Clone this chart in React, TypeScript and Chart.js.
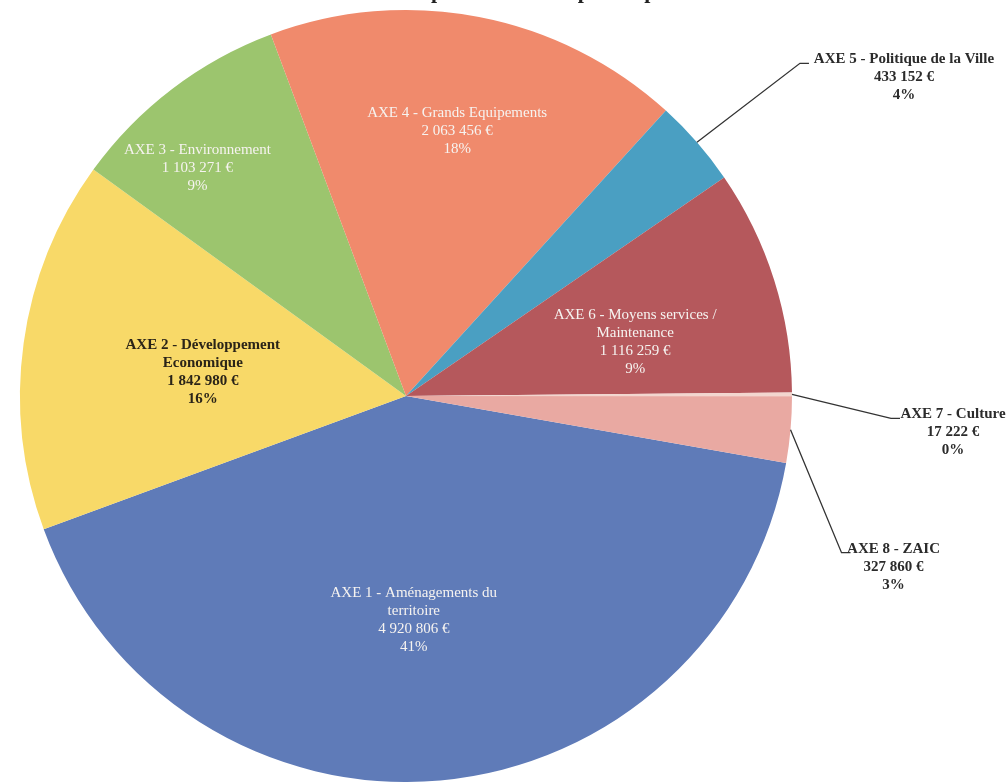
import React, { useEffect, useRef } from "react";
import { Chart, registerables } from "chart.js";

Chart.register(...registerables);

const titleText = "Répartition des dépenses par axe";

const categories = [
  "AXE 1 - Aménagements du territoire",
  "AXE 2 - Développement Economique",
  "AXE 3 - Environnement",
  "AXE 4 - Grands Equipements",
  "AXE 5 - Politique de la Ville",
  "AXE 6 - Moyens services / Maintenance",
  "AXE 7 - Culture",
  "AXE 8 - ZAIC",
];

const amounts = [4920806, 1842980, 1103271, 2063456, 433152, 1116259, 17222, 327860];

const nameLines = [
  ["AXE 1 - Aménagements du", "territoire"],
  ["AXE 2 - Développement", "Economique"],
  ["AXE 3 - Environnement"],
  ["AXE 4 - Grands Equipements"],
  ["AXE 5 - Politique de la Ville"],
  ["AXE 6 - Moyens services /", "Maintenance"],
  ["AXE 7 - Culture"],
  ["AXE 8 - ZAIC"],
];

const amountLabels = [
  "4 920 806 €",
  "1 842 980 €",
  "1 103 271 €",
  "2 063 456 €",
  "433 152 €",
  "1 116 259 €",
  "17 222 €",
  "327 860 €",
];

const percentLabels = ["41%", "16%", "9%", "18%", "4%", "9%", "0%", "3%"];

const colors = ["#5f7bb8", "#f8d968", "#9cc56e", "#f08a6c", "#4a9fc2", "#b5585c", "#f3d6cf", "#e9a9a2"];

// style: label placement (inside: radius fraction + angle offset; outside: leader elbow offsets)
const insideStyle: (null | { r: number; da: number; dark: boolean })[] = [
  { r: 0.58, da: 3.1, dark: false },
  { r: 0.53, da: -1.2, dark: true },
  { r: 0.8, da: -5.2, dark: false },
  { r: 0.7, da: 0, dark: false },
  null,
  { r: 0.61, da: 4.2, dark: false },
  null,
  null,
];

const outsideStyle: (null | { ex: number; ey: number; tx: number })[] = [
  null,
  null,
  null,
  null,
  { ex: 103, ey: -79, tx: 104 },
  null,
  { ex: 99, ey: 24, tx: 62 },
  { ex: 51, ey: 123, tx: 52 },
];

const labelPlugin = {
  id: "pieLabels",
  afterDraw(chart: any) {
    const ctx = chart.ctx;
    const meta = chart.getDatasetMeta(0);
    ctx.save();
    // title (mostly cut off at the top)
    ctx.font = "bold 22px 'Liberation Serif', serif";
    ctx.fillStyle = "#222";
    ctx.textAlign = "center";
    ctx.textBaseline = "alphabetic";
    ctx.fillText(titleText, 560, -2);

    const lh = 18;
    meta.data.forEach((arc: any, i: number) => {
      const p = arc.getProps(["x", "y", "startAngle", "endAngle", "outerRadius"], true);
      const mid = (p.startAngle + p.endAngle) / 2;
      const lines = [...nameLines[i], amountLabels[i], percentLabels[i]];
      const ins = insideStyle[i];
      if (ins) {
        const a = mid + (ins.da * Math.PI) / 180;
        const cx = p.x + Math.cos(a) * p.outerRadius * ins.r;
        const cy = p.y + Math.sin(a) * p.outerRadius * ins.r;
        ctx.font = ins.dark ? "bold 15px 'Liberation Serif', serif" : "15px 'Liberation Serif', serif";
        ctx.fillStyle = ins.dark ? "#2a2418" : "#f6f3f0";
        ctx.textAlign = "center";
        ctx.textBaseline = "middle";
        const top = cy - ((lines.length - 1) * lh) / 2;
        lines.forEach((t, k) => ctx.fillText(t, cx, top + k * lh));
      }
      const out = outsideStyle[i];
      if (out) {
        const sx = p.x + Math.cos(mid) * p.outerRadius;
        const sy = p.y + Math.sin(mid) * p.outerRadius;
        const ex = sx + out.ex;
        const ey = sy + out.ey;
        ctx.strokeStyle = "#333";
        ctx.lineWidth = 1.3;
        ctx.beginPath();
        ctx.moveTo(sx, sy);
        ctx.lineTo(ex, ey);
        ctx.lineTo(ex + 9, ey);
        ctx.stroke();
        ctx.font = "bold 15px 'Liberation Serif', serif";
        ctx.fillStyle = "#2b2b2b";
        ctx.textAlign = "center";
        ctx.textBaseline = "middle";
        const tx = ex + out.tx;
        lines.forEach((t, k) => ctx.fillText(t, tx, ey - 4 + k * lh));
      }
    });
    ctx.restore();
  },
};

export default function App() {
  const ref = useRef<HTMLCanvasElement>(null);
  useEffect(() => {
    if (!ref.current) return;
    const chart = new Chart(ref.current, {
      type: "pie",
      data: {
        labels: categories,
        datasets: [
          {
            data: amounts,
            backgroundColor: colors,
            borderWidth: 0,
          },
        ],
      },
      options: {
        responsive: false,
        animation: false,
        rotation: 100,
        layout: { padding: { left: 20, top: 10, right: 216, bottom: 0 } },
        plugins: {
          legend: { display: false },
          tooltip: { enabled: false },
          title: { display: false },
        },
      },
      plugins: [labelPlugin],
    });
    return () => chart.destroy();
  }, []);
  return (
    <div style={{ position: "fixed", left: 0, top: 0, width: 1008, height: 782, background: "#fff" }}>
      <canvas ref={ref} width={1008} height={782} />
    </div>
  );
}
